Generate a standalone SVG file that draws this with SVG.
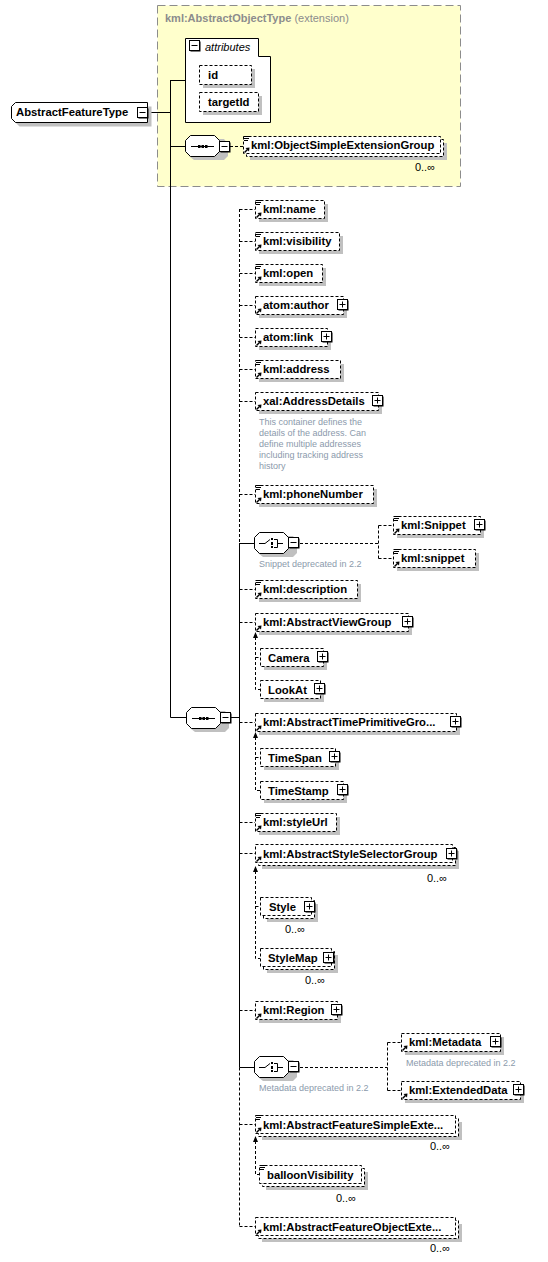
<svg xmlns="http://www.w3.org/2000/svg" width="548" height="1262" viewBox="0 0 548 1262">
<style>
.b{fill:#fff;stroke:#000;stroke-dasharray:3,2}
.bs{fill:#fff;stroke:#000}
.s{fill:#c0c0c0}
.t{font-family:"Liberation Sans",Arial,sans-serif;font-weight:bold;font-size:11.3px;fill:#000}
.c{font-family:"Liberation Sans",Arial,sans-serif;font-size:11px;fill:#000}
.n{font-family:"Liberation Sans",Arial,sans-serif;font-size:9px;fill:#8b9aac}
.dl{fill:none;stroke:#000;stroke-dasharray:3,2}
.sl{fill:none;stroke:#000}
</style>
<defs>
<g id="ics"><path d="M1,0.5H6M1,2.5H6M1,4.5H5" stroke="#000" fill="none"/></g>
<g id="icr"><path d="M1.5,-1.5L4.5,-4.5" stroke="#000" stroke-width="1.4" fill="none"/><path d="M6.5,-6.5L2.5,-6L6,-2.5Z" fill="#000"/></g>
<g id="plus"><rect x="1.5" y="1.5" width="10" height="10" fill="#000"/><rect x="0.5" y="0.5" width="10" height="10" fill="#fff" stroke="#000"/><path d="M2.5,5.5H8.5M5.5,2.5V8.5" stroke="#000" fill="none"/></g>
<g id="minus"><rect x="1.5" y="1.5" width="10" height="10" fill="#000"/><rect x="0.5" y="0.5" width="10" height="10" fill="#fff" stroke="#000"/><path d="M2.5,5.5H8.5" stroke="#000" fill="none"/></g>
<g id="oct"><path d="M9,4H39L43,9V21L39,25H9L4,21V9Z" fill="#c0c0c0"/><path d="M5.5,0.5H29.5L34.5,5.5V16.5L29.5,21.5H5.5L0.5,16.5V5.5Z" fill="#fff" stroke="#000"/></g>
<g id="seq"><path d="M6,11.5H29" stroke="#000" fill="none"/><rect x="13" y="10" width="2.5" height="3" fill="#000"/><rect x="16.5" y="10" width="2.5" height="3" fill="#000"/><rect x="20" y="10" width="2.5" height="3" fill="#000"/></g>
<g id="cho"><path d="M5,11.5H11L16,7.5M23,11.5H29M20,7.5H23.5V15.5H20" stroke="#000" fill="none"/><rect x="17" y="6" width="2" height="2" fill="#000"/><rect x="17" y="10" width="2" height="3" fill="#000"/><rect x="17" y="14" width="2" height="2" fill="#000"/></g>
</defs>

<g id="n-ext">
<rect x="157.5" y="5.5" width="303" height="181" fill="#ffffcc" stroke="#8c8c8c" stroke-dasharray="8,4"/>
<text x="165" y="22" font-family="Liberation Sans,Arial,sans-serif" font-size="11" fill="#8c8c8c"><tspan font-weight="bold">kml:AbstractObjectType</tspan> (extension)</text>
</g>

<g id="connectors">
<path class="sl" d="M148,112.5H170.5M170.5,80V717.5M170.5,80.5H185M170.5,146.5H185M170.5,717.5H186M231,717.5H239.5"/>
<path class="dl" d="M230,146.5H243"/>
<path class="dl" d="M239.5,209V543"/>
<path class="sl" d="M239.5,543V1067.5"/>
<path class="dl" d="M239.5,1067.5V1226.5"/>
<path class="dl" d="M239.5,209.5H255M239.5,241.5H255M239.5,273.5H255M239.5,305.5H255M239.5,337.5H255M239.5,369.5H255M239.5,401.5H255M239.5,494.5H255M239.5,589.5H255M239.5,622.5H255M239.5,722.5H255M239.5,822.5H255M239.5,853.5H255M239.5,1010.5H255M239.5,1124.5H255M239.5,1226.5H255"/>
<path class="sl" d="M239.5,543.5H254M239.5,1067.5H254"/>
<path class="dl" d="M300,543.5H378.5M378.5,525.5V558.5M378.5,525.5H393M378.5,558.5H393"/>
<path class="dl" d="M300,1067.5H387.5M387.5,1042.5V1090.5M387.5,1042.5H401M387.5,1090.5H401"/>
<path class="dl" d="M255.5,637V689.5H260M255.5,657.5H260"/>
<path class="dl" d="M255.5,737V790.5H260M255.5,757.5H260"/>
<path class="dl" d="M255.5,871V958.5H260M255.5,906.5H260"/>
<path class="dl" d="M255.5,1141V1174.5H259"/>
<path d="M255.5,632L253,638H258Z M255.5,732L253,738H258Z M255.5,866L253,872H258Z M255.5,1136L253,1142H258Z" fill="#000"/>
</g>

<g id="n-root">
<path d="M19.5,106.5H151.5V126.5H19.5L15.5,122.5V110.5Z" class="s"/>
<path d="M15.5,102.5H147.5V122.5H15.5L11.5,118.5V106.5Z" class="bs"/>
<text class="t" x="16" y="116">AbstractFeatureType</text>
<use href="#minus" x="137" y="107"/>
</g>

<g id="n-attributes">
<path class="bs" d="M185.5,38.5H258.5V56.5H270.5V122.5H185.5Z"/>
<use href="#minus" x="189" y="40"/>
<text x="205" y="51" font-family="Liberation Sans,Arial,sans-serif" font-size="11" font-style="italic" fill="#000">attributes</text>
</g>
<g id="n-id">
<rect class="s" x="203" y="69" width="52" height="19"/>
<rect class="b" x="199.5" y="65.5" width="52" height="19"/>
<text class="t" x="208" y="79">id</text>
</g>
<g id="n-targetId">
<rect class="s" x="203" y="96" width="59" height="19"/>
<rect class="b" x="199.5" y="92.5" width="59" height="19"/>
<text class="t" x="208" y="106">targetId</text>
</g>

<g id="n-seq1">
<use href="#oct" x="185" y="135"/>
<use href="#seq" x="185" y="135"/>
<use href="#minus" x="219" y="141"/>
</g>
<g id="n-ObjectSimpleExtensionGroup">
<rect class="s" x="250" y="143" width="197" height="17"/>
<rect class="b" x="246.5" y="139.5" width="197" height="17"/>
<rect class="b" x="243.5" y="136.5" width="197" height="17"/>
<use href="#ics" x="243" y="136"/><use href="#icr" x="243" y="154"/>
<text class="t" x="251" y="149">kml:ObjectSimpleExtensionGroup</text>
<text class="c" x="435" y="171" text-anchor="end">0..∞</text>
</g>

<g id="n-seq2">
<use href="#oct" x="186" y="707"/>
<use href="#seq" x="186" y="707"/>
<use href="#minus" x="220" y="712"/>
</g>

<g id="n-name">
<rect class="s" x="259" y="204" width="69" height="18"/><rect class="b" x="255.5" y="200.5" width="69" height="18"/>
<use href="#ics" x="255" y="200"/><use href="#icr" x="255" y="219"/>
<text class="t" x="263" y="213">kml:name</text>
</g>
<g id="n-visibility">
<rect class="s" x="259" y="236" width="84" height="18"/><rect class="b" x="255.5" y="232.5" width="84" height="18"/>
<use href="#ics" x="255" y="232"/><use href="#icr" x="255" y="251"/>
<text class="t" x="263" y="245">kml:visibility</text>
</g>
<g id="n-open">
<rect class="s" x="259" y="268" width="67" height="18"/><rect class="b" x="255.5" y="264.5" width="67" height="18"/>
<use href="#ics" x="255" y="264"/><use href="#icr" x="255" y="283"/>
<text class="t" x="263" y="277">kml:open</text>
</g>
<g id="n-author">
<rect class="s" x="259" y="300" width="88" height="18"/><rect class="b" x="255.5" y="296.5" width="88" height="18"/>
<use href="#icr" x="255" y="315"/>
<text class="t" x="263" y="309">atom:author</text>
<use href="#plus" x="337" y="299"/>
</g>
<g id="n-link">
<rect class="s" x="259" y="332" width="72" height="18"/><rect class="b" x="255.5" y="328.5" width="72" height="18"/>
<use href="#icr" x="255" y="347"/>
<text class="t" x="263" y="341">atom:link</text>
<use href="#plus" x="321" y="331"/>
</g>
<g id="n-address">
<rect class="s" x="259" y="364" width="85" height="18"/><rect class="b" x="255.5" y="360.5" width="85" height="18"/>
<use href="#ics" x="255" y="360"/><use href="#icr" x="255" y="379"/>
<text class="t" x="263" y="373">kml:address</text>
</g>
<g id="n-AddressDetails">
<rect class="s" x="259" y="396" width="123" height="18"/><rect class="b" x="255.5" y="392.5" width="123" height="18"/>
<use href="#icr" x="255" y="411"/>
<text class="t" x="263" y="405">xal:AddressDetails</text>
<use href="#plus" x="372" y="395"/>
<text class="n" x="259" y="425">This container defines the</text>
<text class="n" x="259" y="436">details of the address. Can</text>
<text class="n" x="259" y="447">define multiple addresses</text>
<text class="n" x="259" y="458">including tracking address</text>
<text class="n" x="259" y="469">history</text>
</g>
<g id="n-phoneNumber">
<rect class="s" x="259" y="489" width="118" height="18"/><rect class="b" x="255.5" y="485.5" width="118" height="18"/>
<use href="#ics" x="255" y="485"/><use href="#icr" x="255" y="504"/>
<text class="t" x="263" y="498">kml:phoneNumber</text>
</g>

<g id="n-choice1">
<use href="#oct" x="254" y="532"/>
<use href="#cho" x="254" y="532"/>
<use href="#minus" x="288" y="537"/>
<text class="n" x="259" y="567">Snippet deprecated in 2.2</text>
</g>
<g id="n-Snippet">
<rect class="s" x="397" y="520" width="87" height="18"/><rect class="b" x="393.5" y="516.5" width="87" height="18"/>
<use href="#ics" x="393" y="516"/><use href="#icr" x="393" y="535"/>
<text class="t" x="401" y="529">kml:Snippet</text>
<use href="#plus" x="474" y="519"/>
</g>
<g id="n-snippet">
<rect class="s" x="397" y="553" width="82" height="18"/><rect class="b" x="393.5" y="549.5" width="82" height="18"/>
<use href="#ics" x="393" y="549"/><use href="#icr" x="393" y="568"/>
<text class="t" x="401" y="562">kml:snippet</text>
</g>

<g id="n-description">
<rect class="s" x="259" y="584" width="102" height="18"/><rect class="b" x="255.5" y="580.5" width="102" height="18"/>
<use href="#ics" x="255" y="580"/><use href="#icr" x="255" y="599"/>
<text class="t" x="263" y="593">kml:description</text>
</g>
<g id="n-AbstractViewGroup">
<rect class="s" x="259" y="617" width="153" height="18"/><rect class="b" x="255.5" y="613.5" width="153" height="18"/>
<use href="#icr" x="255" y="632"/>
<text class="t" x="263" y="626">kml:AbstractViewGroup</text>
<use href="#plus" x="402" y="616"/>
</g>
<g id="n-Camera">
<rect class="s" x="264" y="652" width="63" height="18"/><rect class="b" x="260.5" y="648.5" width="63" height="18"/>
<text class="t" x="268" y="662">Camera</text>
<use href="#plus" x="317" y="651"/>
</g>
<g id="n-LookAt">
<rect class="s" x="264" y="684" width="60" height="18"/><rect class="b" x="260.5" y="680.5" width="60" height="18"/>
<text class="t" x="268" y="694">LookAt</text>
<use href="#plus" x="314" y="683"/>
</g>
<g id="n-AbstractTimePrimitiveGroup">
<rect class="s" x="259" y="717" width="201" height="18"/><rect class="b" x="255.5" y="713.5" width="201" height="18"/>
<use href="#icr" x="255" y="732"/>
<text class="t" x="263" y="726">kml:AbstractTimePrimitiveGro...</text>
<use href="#plus" x="450" y="716"/>
</g>
<g id="n-TimeSpan">
<rect class="s" x="264" y="752" width="75" height="18"/><rect class="b" x="260.5" y="748.5" width="75" height="18"/>
<text class="t" x="268" y="762">TimeSpan</text>
<use href="#plus" x="329" y="751"/>
</g>
<g id="n-TimeStamp">
<rect class="s" x="264" y="785" width="83" height="18"/><rect class="b" x="260.5" y="781.5" width="83" height="18"/>
<text class="t" x="268" y="795">TimeStamp</text>
<use href="#plus" x="337" y="784"/>
</g>
<g id="n-styleUrl">
<rect class="s" x="259" y="817" width="81" height="18"/><rect class="b" x="255.5" y="813.5" width="81" height="18"/>
<use href="#ics" x="255" y="813"/><use href="#icr" x="255" y="832"/>
<text class="t" x="263" y="826">kml:styleUrl</text>
</g>
<g id="n-AbstractStyleSelectorGroup">
<rect class="s" x="262" y="851" width="197" height="18"/>
<rect class="b" x="258.5" y="847.5" width="197" height="18"/>
<rect class="b" x="255.5" y="844.5" width="197" height="18"/>
<use href="#icr" x="255" y="863"/>
<text class="t" x="263" y="858">kml:AbstractStyleSelectorGroup</text>
<use href="#plus" x="446" y="848"/>
<text class="c" x="447" y="882" text-anchor="end">0..∞</text>
</g>
<g id="n-Style">
<rect class="s" x="267" y="904" width="51" height="18"/>
<rect class="b" x="263.5" y="900.5" width="51" height="18"/>
<rect class="b" x="260.5" y="897.5" width="51" height="18"/>
<text class="t" x="269" y="911">Style</text>
<use href="#plus" x="304" y="901"/>
<text class="c" x="305" y="933" text-anchor="end">0..∞</text>
</g>
<g id="n-StyleMap">
<rect class="s" x="267" y="955" width="71" height="18"/>
<rect class="b" x="263.5" y="951.5" width="71" height="18"/>
<rect class="b" x="260.5" y="948.5" width="71" height="18"/>
<text class="t" x="268" y="962">StyleMap</text>
<use href="#plus" x="323" y="952"/>
<text class="c" x="325" y="984" text-anchor="end">0..∞</text>
</g>
<g id="n-Region">
<rect class="s" x="259" y="1005" width="82" height="18"/><rect class="b" x="255.5" y="1001.5" width="82" height="18"/>
<use href="#icr" x="255" y="1020"/>
<text class="t" x="263" y="1014">kml:Region</text>
<use href="#plus" x="331" y="1004"/>
</g>

<g id="n-choice2">
<use href="#oct" x="254" y="1056"/>
<use href="#cho" x="254" y="1056"/>
<use href="#minus" x="288" y="1061"/>
<text class="n" x="259" y="1091">Metadata deprecated in 2.2</text>
</g>
<g id="n-Metadata">
<rect class="s" x="405" y="1037" width="99" height="18"/><rect class="b" x="401.5" y="1033.5" width="99" height="18"/>
<use href="#icr" x="401" y="1052"/>
<text class="t" x="409" y="1046">kml:Metadata</text>
<use href="#plus" x="490" y="1036"/>
<text class="n" x="406" y="1066">Metadata deprecated in 2.2</text>
</g>
<g id="n-ExtendedData">
<rect class="s" x="405" y="1085" width="119" height="18"/><rect class="b" x="401.5" y="1081.5" width="119" height="18"/>
<use href="#icr" x="401" y="1100"/>
<text class="t" x="409" y="1094">kml:ExtendedData</text>
<use href="#plus" x="513" y="1084"/>
</g>

<g id="n-AbstractFeatureSimpleExtensionGroup">
<rect class="s" x="262" y="1122" width="200" height="18"/>
<rect class="b" x="258.5" y="1118.5" width="200" height="18"/>
<rect class="b" x="255.5" y="1115.5" width="200" height="18"/>
<use href="#ics" x="255" y="1115"/><use href="#icr" x="255" y="1134"/>
<text class="t" x="263" y="1129">kml:AbstractFeatureSimpleExte...</text>
<text class="c" x="450" y="1150" text-anchor="end">0..∞</text>
</g>
<g id="n-balloonVisibility">
<rect class="s" x="266" y="1172" width="102" height="18"/>
<rect class="b" x="262.5" y="1168.5" width="102" height="18"/>
<rect class="b" x="259.5" y="1165.5" width="102" height="18"/>
<use href="#ics" x="259" y="1165"/>
<text class="t" x="267" y="1179">balloonVisibility</text>
<text class="c" x="356" y="1202" text-anchor="end">0..∞</text>
</g>
<g id="n-AbstractFeatureObjectExtensionGroup">
<rect class="s" x="262" y="1224" width="200" height="18"/>
<rect class="b" x="258.5" y="1220.5" width="200" height="18"/>
<rect class="b" x="255.5" y="1217.5" width="200" height="18"/>
<use href="#icr" x="255" y="1236"/>
<text class="t" x="263" y="1231">kml:AbstractFeatureObjectExte...</text>
<text class="c" x="450" y="1252" text-anchor="end">0..∞</text>
</g>
</svg>
